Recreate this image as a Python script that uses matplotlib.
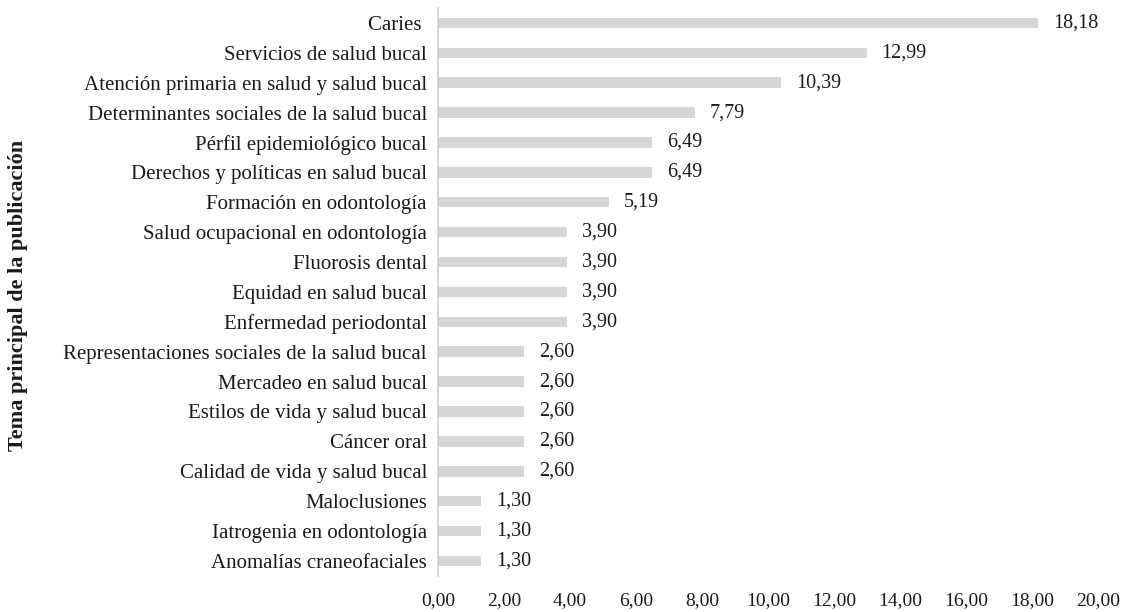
import matplotlib
matplotlib.use("Agg")
import matplotlib.pyplot as plt

categories = [
    "Caries ",
    "Servicios de salud bucal",
    "Atención primaria en salud y salud bucal",
    "Determinantes sociales de la salud bucal",
    "Pérfil epidemiológico bucal",
    "Derechos y políticas en salud bucal",
    "Formación en odontología",
    "Salud ocupacional en odontología",
    "Fluorosis dental",
    "Equidad en salud bucal",
    "Enfermedad periodontal",
    "Representaciones sociales de la salud bucal",
    "Mercadeo en salud bucal",
    "Estilos de vida y salud bucal",
    "Cáncer oral",
    "Calidad de vida y salud bucal",
    "Maloclusiones",
    "Iatrogenia en odontología",
    "Anomalías craneofaciales",
]
values = [18.18, 12.99, 10.39, 7.79, 6.49, 6.49, 5.19, 3.90, 3.90, 3.90, 3.90,
          2.60, 2.60, 2.60, 2.60, 2.60, 1.30, 1.30, 1.30]
xticks = [0, 2, 4, 6, 8, 10, 12, 14, 16, 18, 20]
ylabel = "Tema principal de la publicación"

def fmt(v):
    return f"{v:.2f}".replace(".", ",")

plt.rcParams['font.family'] = ['Liberation Serif', 'DejaVu Serif']

fig = plt.figure(figsize=(11.26, 6.12), dpi=100)
ax = fig.add_axes([0.389, 0.059, 0.586, 0.928])

y = list(range(len(categories)))
ax.barh(y, values, height=0.35, color='#d6d6d6', edgecolor='none')
ax.set_ylim(len(categories) - 0.5, -0.5)
ax.set_xlim(0, 20)
ax.set_yticks(y)
ax.set_yticklabels(categories, fontsize=15, color='#1a1a1a')
ax.set_xticks(xticks)
ax.set_xticklabels([fmt(t) for t in xticks], fontsize=14, color='#1a1a1a')
ax.tick_params(axis='y', length=0, pad=8)
ax.tick_params(axis='x', length=0, pad=12)

for s in ['top', 'right', 'bottom']:
    ax.spines[s].set_visible(False)
ax.spines['left'].set_color('#cfcfcf')
ax.spines['left'].set_linewidth(1.2)

for yi, v in zip(y, values):
    ax.annotate(fmt(v), xy=(v, yi), xytext=(15, 0), textcoords='offset pixels',
                ha='left', va='center', fontsize=14.5, color='#1a1a1a')

fig.text(18 / 1126, 1 - 295 / 612, ylabel, rotation=90, ha='center', va='center',
         fontsize=16, fontweight='bold', color='#1a1a1a')

fig.savefig("out.png", dpi=100)
